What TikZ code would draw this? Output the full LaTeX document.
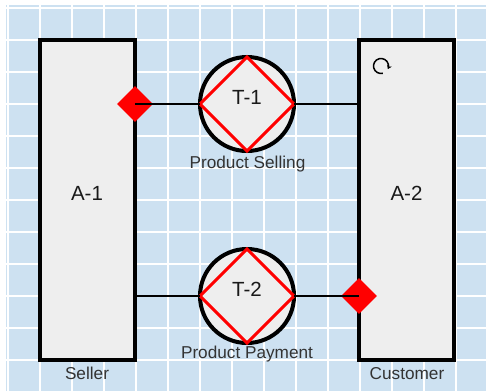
\documentclass[tikz,border=0pt]{standalone}
\usepackage{fontspec}
\setmainfont{Liberation Sans}
\usetikzlibrary{shapes.geometric,arrows.meta}
\definecolor{paper}{RGB}{205,225,241}
\definecolor{boxfill}{RGB}{238,238,238}
\definecolor{labelgray}{RGB}{51,51,51}
\tikzset{
  actor/.style={draw=black, fill=boxfill, line width=4pt, rectangle,
    minimum width=95pt, minimum height=320pt, inner sep=0pt, outer sep=0pt},
  txn/.style={draw=black, fill=boxfill, line width=4pt, circle,
    minimum size=94pt, inner sep=0pt, outer sep=0pt},
  txnmark/.style={draw=red, line width=3pt, line join=miter},
  initiator/.style={diamond, aspect=1, fill=red, minimum size=36pt, inner sep=0pt},
  link/.style={draw=black, line width=2pt},
  bigtext/.style={font=\fontsize{20.5}{24}\selectfont, text=black!90, anchor=base, inner sep=0pt},
  smalltext/.style={font=\fontsize{17.2}{20}\selectfont, text=labelgray, anchor=base, inner sep=0pt},
}
\begin{document}
\begin{tikzpicture}[x=1pt, y=-1pt]
  \useasboundingbox (0,0) rectangle (486,391);
  % squared paper backdrop
  \fill[white] (0,0) rectangle (486,391);
  \fill[paper] (6,5) rectangle (486,391);
  \foreach \k in {0,...,14} {
    \draw[white, line width=1.6pt] ({8+32*\k},5) -- ({8+32*\k},391);
  }
  \foreach \k in {0,...,11} {
    \draw[white, line width=1.6pt] (6,{8+32*\k}) -- (486,{8+32*\k});
  }

  % actors
  \node[actor] (A1) at (87.5,200) {};
  \node[actor] (A2) at (406.5,200) {};
  \node[bigtext] (A1t) at (87,200) {A-1};
  \node[bigtext] (A2t) at (406.5,200) {A-2};
  \node[smalltext] (A1n) at (87,379.5) {Seller};
  \node[smalltext] (A2n) at (407,379.5) {Customer};

  % refresh mark in the customer box
  \draw[line width=1.5pt, -{Stealth[length=4pt,width=5pt]}]
    (381,66) ++(75:7.5) arc[start angle=75, end angle=385, radius=7.5];

  % transactions
  \node[txn] (T1) at (247,104) {};
  \node[txn] (T2) at (247,296) {};
  \draw[txnmark] (T1.west) -- (T1.north) -- (T1.east) -- (T1.south) -- cycle;
  \draw[txnmark] (T2.west) -- (T2.north) -- (T2.east) -- (T2.south) -- cycle;
  \node[bigtext] (T1t) at (247,104.5) {T-1};
  \node[bigtext] (T2t) at (247,296.5) {T-2};
  \node[smalltext] (T1n) at (247.5,168.3) {Product Selling};
  \node[smalltext] (T2n) at (247,358.3) {Product Payment};

  % initiator marks
  \node[initiator] (I1) at (A1.east |- T1.center) {};
  \node[initiator] (I2) at (A2.west |- T2.center) {};

  % connectors
  \draw[link] (I1.center) -- (T1.west);
  \draw[link] (T1.east) -- (T1.east -| A2.west);
  \draw[link] (T2.west -| A1.east) -- (T2.west);
  \draw[link] (T2.east) -- (I2.center);
\end{tikzpicture}
\end{document}
